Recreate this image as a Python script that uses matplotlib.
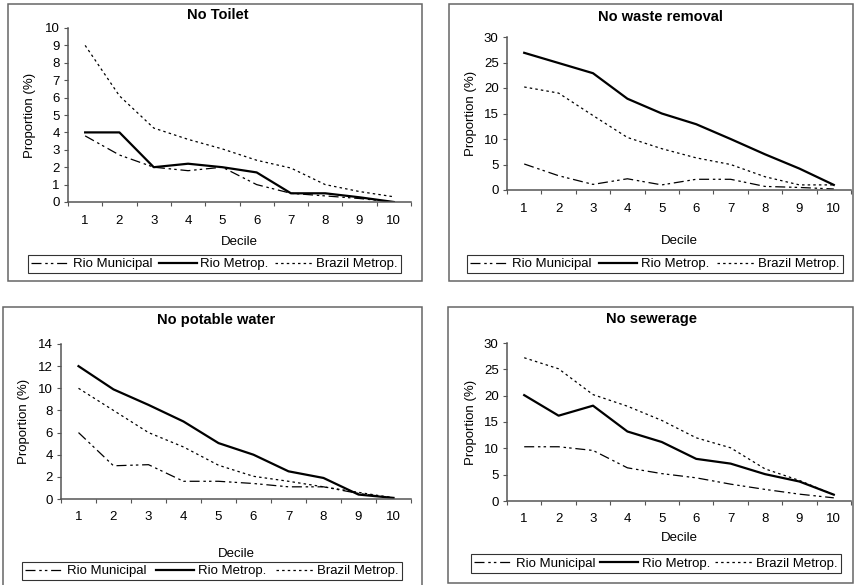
import matplotlib
matplotlib.use("Agg")
import matplotlib.pyplot as plt
from matplotlib.patches import Rectangle
from matplotlib.lines import Line2D
from matplotlib.ticker import FixedLocator, NullFormatter, FixedFormatter

plt.rcParams['font.family'] = ['Liberation Sans', 'DejaVu Sans']

deciles = [1, 2, 3, 4, 5, 6, 7, 8, 9, 10]
series_names = ["Rio Municipal", "Rio Metrop.", "Brazil Metrop."]

toilet_rio_mun = [3.8, 2.7, 2.0, 1.8, 2.0, 1.0, 0.5, 0.35, 0.2, 0.0]
toilet_rio_met = [4.0, 4.0, 2.0, 2.2, 2.0, 1.7, 0.5, 0.5, 0.27, 0.0]
toilet_brazil = [9.0, 6.1, 4.25, 3.6, 3.05, 2.4, 1.95, 1.0, 0.6, 0.3]

waste_rio_mun = [5.1, 2.8, 1.1, 2.2, 1.0, 2.1, 2.1, 0.7, 0.5, 0.2]
waste_rio_met = [26.9, 24.9, 22.9, 17.9, 15.0, 12.9, 10.0, 7.0, 4.2, 1.0]
waste_brazil = [20.2, 19.0, 14.6, 10.3, 8.1, 6.3, 5.0, 2.6, 1.0, 1.0]

water_rio_mun = [6.0, 3.0, 3.1, 1.6, 1.6, 1.4, 1.1, 1.1, 0.5, 0.1]
water_rio_met = [12.0, 9.9, 8.5, 7.0, 5.05, 4.0, 2.5, 1.9, 0.4, 0.1]
water_brazil = [10.0, 8.0, 6.0, 4.7, 3.05, 2.05, 1.6, 1.1, 0.6, 0.1]

sewer_rio_mun = [10.3, 10.3, 9.6, 6.3, 5.2, 4.4, 3.2, 2.2, 1.3, 0.6]
sewer_rio_met = [20.1, 16.2, 18.1, 13.2, 11.2, 8.0, 7.1, 5.1, 3.7, 1.2]
sewer_brazil = [27.2, 25.1, 20.2, 18.0, 15.3, 12.0, 10.1, 6.1, 3.9, 1.2]

titles = ["No Toilet", "No waste removal", "No potable water", "No sewerage"]
y_max = [10, 30, 14, 30]
y_step = [1, 5, 2, 5]

W, H = 856, 585
fig = plt.figure(figsize=(W / 100, H / 100), dpi=100)
fig.patch.set_facecolor("white")


def fx(x):
    return x / W


def fy(y):
    return 1 - y / H


# layout in pixels (left, right, top, bottom)
frames = [(8, 422, 4, 281), (449, 853, 4, 281), (3, 422, 307, 590), (448, 853, 307, 583)]
axes_px = [(68, 411, 28, 202), (507, 851, 37, 190), (61, 411, 344, 499), (507, 851, 343, 501)]
title_px = [(218, 15), (660, 17), (216, 320), (652, 319)]
xlabel_y = [242, 241, 554, 538]
ylabel_x = [30, 471, 24, 471]
legend_px = [(28, 401, 253, 275), (467, 843, 253, 275), (22, 402, 561, 581), (471, 841, 554, 573)]

data = [
    (toilet_rio_mun, toilet_rio_met, toilet_brazil),
    (waste_rio_mun, waste_rio_met, waste_brazil),
    (water_rio_mun, water_rio_met, water_brazil),
    (sewer_rio_mun, sewer_rio_met, sewer_brazil),
]

styles = [
    dict(color="black", lw=0.9, ls=(0, (8, 3, 2, 2.5, 2, 3))),
    dict(color="black", lw=1.6, ls="-"),
    dict(color="black", lw=0.9, ls=(0, (2, 2.5))),
]

axis_color = "#555555"

for i in range(4):
    l, r, t, b = frames[i]
    fig.patches.append(Rectangle((fx(l), fy(b)), fx(r - l), (b - t) / H,
                                 transform=fig.transFigure, fill=False,
                                 edgecolor="#666666", lw=1.1, zorder=0))
    al, ar, at, ab = axes_px[i]
    ax = fig.add_axes([fx(al), fy(ab), fx(ar - al), (ab - at) / H])
    ax.set_facecolor("none")
    for k, vals in enumerate(data[i]):
        ax.plot(deciles, vals, label=series_names[k], **styles[k])
    ax.set_xlim(0.5, 10.5)
    ax.set_ylim(0, y_max[i])
    ax.set_yticks(list(range(0, y_max[i] + 1, y_step[i])))
    ax.xaxis.set_major_locator(FixedLocator([d - 0.5 for d in deciles] + [10.5]))
    ax.xaxis.set_major_formatter(NullFormatter())
    ax.xaxis.set_minor_locator(FixedLocator(deciles))
    ax.xaxis.set_minor_formatter(FixedFormatter([str(d) for d in deciles]))
    ax.tick_params(axis="x", which="major", length=3, width=0.8, color=axis_color, direction="out")
    ax.tick_params(axis="x", which="minor", length=0, labelsize=9.5, pad=9)
    ax.tick_params(axis="y", length=3, width=0.8, color=axis_color, labelsize=9.5, pad=3)
    for s in ["top", "right"]:
        ax.spines[s].set_visible(False)
    for s in ["left", "bottom"]:
        ax.spines[s].set_color(axis_color)
        ax.spines[s].set_linewidth(1.1)
    ax.set_xlabel("Decile", fontsize=9.5, va="center")
    ax.xaxis.set_label_coords(fx((al + ar) / 2), fy(xlabel_y[i]), transform=fig.transFigure)
    ax.set_ylabel("Proportion (%)", fontsize=9.5, va="center")
    ax.yaxis.set_label_coords(fx(ylabel_x[i]), fy((at + ab) / 2), transform=fig.transFigure)
    tx, ty = title_px[i]
    fig.text(fx(tx), fy(ty), titles[i], ha="center", va="center", fontsize=10.5, fontweight="bold")

    ll, lr, lt, lb = legend_px[i]
    handles = [Line2D([], [], **styles[k]) for k in range(3)]
    leg = ax.legend(handles, series_names, loc="center", ncol=3, mode="expand",
                    bbox_to_anchor=(fx(ll), fy(lb), fx(lr - ll), (lb - lt) / H),
                    bbox_transform=fig.transFigure, fontsize=9.5, frameon=True,
                    fancybox=False, borderpad=0.25, handlelength=2.9, handletextpad=0.25,
                    columnspacing=0.3, borderaxespad=0)
    leg.get_frame().set_edgecolor("black")
    leg.get_frame().set_linewidth(0.8)

fig.savefig("out.png", dpi=100, facecolor="white")
